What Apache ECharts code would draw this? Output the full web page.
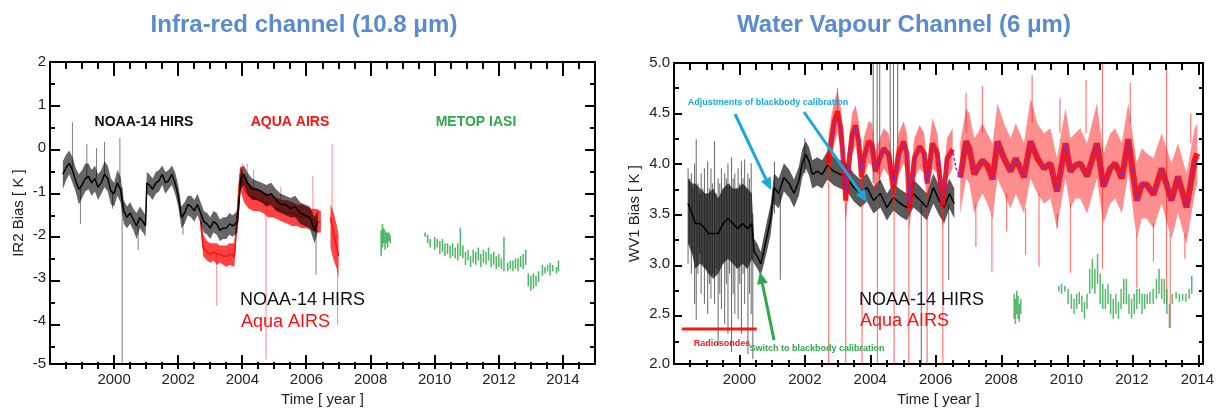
<!DOCTYPE html>
<html>
<head>
<meta charset="utf-8">
<script src="https://cdn.jsdelivr.net/npm/echarts@6/dist/echarts.min.js"></script>
<style>
  html, body { margin: 0; padding: 0; background: #fff; }
  #chart { width: 1217px; height: 412px; }
</style>
</head>
<body>
<div id="chart"></div>
<script>
// Two IR / WV bias time series panels (NOAA-14 HIRS, Aqua AIRS, MetOp IASI)
// Values. Band rows are [year, low, mid, high],
// spike / scatter rows are [year, low, high], mean rows are [year, value].

// ---------- Infra-red channel (10.8 um) ----------
const irHirs = [
  [1998.40, -0.95, -0.6, -0.3], [1998.50, -0.75, -0.45, -0.15], [1998.60, -0.6, -0.35, -0.05],
  [1998.70, -0.8, -0.5, -0.2], [1998.80, -1.0, -0.75, -0.45], [1998.90, -1.3, -0.95, -0.6],
  [1999.00, -1.15, -0.85, -0.5], [1999.10, -1.0, -0.7, -0.35], [1999.20, -0.95, -0.65, -0.35],
  [1999.30, -1.1, -0.8, -0.5], [1999.40, -1.0, -0.7, -0.4], [1999.50, -1.2, -0.9, -0.6],
  [1999.60, -1.05, -0.8, -0.5], [1999.70, -0.9, -0.6, -0.3], [1999.80, -1.0, -0.7, -0.4],
  [1999.90, -1.3, -1.0, -0.7], [2000.00, -1.35, -1.05, -0.8], [2000.10, -1.1, -0.8, -0.5],
  [2000.20, -1.25, -0.95, -0.65], [2000.30, -1.75, -1.45, -1.2], [2000.40, -1.85, -1.6, -1.35],
  [2000.50, -1.75, -1.5, -1.25], [2000.60, -1.9, -1.65, -1.4], [2000.70, -2.1, -1.8, -1.5],
  [2000.80, -1.85, -1.6, -1.35], [2000.90, -1.95, -1.7, -1.45], [2000.98, -2.05, -1.8, -1.55],
  [2001.02, -1.05, -0.8, -0.55], [2001.10, -1.1, -0.85, -0.6], [2001.20, -1.2, -0.95, -0.7],
  [2001.30, -1.05, -0.8, -0.55], [2001.40, -1.0, -0.75, -0.5], [2001.50, -0.85, -0.6, -0.4],
  [2001.60, -1.05, -0.8, -0.55], [2001.70, -0.95, -0.75, -0.5], [2001.80, -0.85, -0.6, -0.4],
  [2001.90, -1.05, -0.8, -0.55], [2002.00, -1.35, -1.1, -0.85], [2002.10, -1.85, -1.6, -1.35],
  [2002.20, -1.75, -1.5, -1.25], [2002.30, -1.55, -1.3, -1.1], [2002.40, -1.6, -1.35, -1.1],
  [2002.50, -1.7, -1.45, -1.2], [2002.60, -1.55, -1.3, -1.05], [2002.70, -1.75, -1.5, -1.25],
  [2002.80, -1.95, -1.7, -1.45], [2002.90, -2.0, -1.75, -1.5], [2003.00, -2.1, -1.85, -1.6],
  [2003.10, -1.95, -1.7, -1.45], [2003.20, -2.0, -1.75, -1.5], [2003.30, -2.15, -1.9, -1.65],
  [2003.40, -2.1, -1.85, -1.6], [2003.50, -2.1, -1.85, -1.6], [2003.60, -2.0, -1.75, -1.5],
  [2003.70, -2.05, -1.8, -1.55], [2003.85, -1.95, -1.7, -1.45], [2003.95, -0.95, -0.7, -0.45],
  [2004.05, -0.85, -0.6, -0.4], [2004.15, -1.05, -0.8, -0.55], [2004.30, -1.2, -0.95, -0.7],
  [2004.45, -1.2, -0.95, -0.75], [2004.60, -1.25, -1.0, -0.8], [2004.75, -1.35, -1.1, -0.85],
  [2004.90, -1.3, -1.05, -0.8], [2005.05, -1.45, -1.2, -0.95], [2005.20, -1.5, -1.3, -1.05],
  [2005.35, -1.55, -1.3, -1.1], [2005.50, -1.6, -1.4, -1.15], [2005.65, -1.6, -1.35, -1.1],
  [2005.80, -1.75, -1.5, -1.25], [2005.95, -1.8, -1.55, -1.3], [2006.10, -1.85, -1.6, -1.35],
  [2006.25, -2.2, -1.9, -1.6], [2006.35, -1.95, -1.7, -1.45]
];
const irHirsSpikes = [
  [1998.70, -0.5, 0.6], [1998.95, -1.75, -0.9], [1999.15, -0.7, 0.1], [1999.45, -0.7, 0.0],
  [1999.70, -0.6, 0.15], [1999.95, -1.4, -1.0], [2000.18, -0.8, 0.24], [2000.25, -5.0, -0.9],
  [2000.75, -2.36, -1.8], [2002.15, -2.0, -1.5], [2006.30, -2.93, -1.9]
];
const irAirsA = [
  [2002.70, -1.9, -1.7, -1.45], [2002.78, -2.5, -2.3, -2.0], [2002.90, -2.6, -2.4, -2.15],
  [2003.00, -2.65, -2.45, -2.2], [2003.10, -2.6, -2.4, -2.2], [2003.20, -2.7, -2.45, -2.2],
  [2003.30, -2.65, -2.45, -2.25], [2003.40, -2.7, -2.5, -2.25], [2003.50, -2.75, -2.5, -2.25],
  [2003.60, -2.7, -2.45, -2.2], [2003.75, -2.75, -2.5, -2.2], [2003.93, -0.95, -0.6, -0.4],
  [2004.05, -1.25, -0.95, -0.65], [2004.20, -1.4, -1.1, -0.8], [2004.35, -1.45, -1.15, -0.9],
  [2004.50, -1.45, -1.2, -0.95], [2004.65, -1.5, -1.25, -1.0], [2004.80, -1.6, -1.3, -1.05],
  [2004.95, -1.6, -1.35, -1.1], [2005.10, -1.65, -1.4, -1.15], [2005.25, -1.7, -1.45, -1.2],
  [2005.40, -1.75, -1.5, -1.2], [2005.55, -1.8, -1.5, -1.25], [2005.70, -1.8, -1.55, -1.3],
  [2005.85, -1.85, -1.6, -1.3], [2006.00, -1.85, -1.6, -1.35], [2006.15, -1.9, -1.65, -1.4],
  [2006.30, -1.95, -1.7, -1.4], [2006.45, -1.95, -1.7, -1.45]
];
const irAirsB = [
  [2006.75, -2.3, -1.6, -1.3], [2006.85, -2.6, -2.0, -1.5], [2006.95, -2.8, -2.3, -1.8],
  [2007.00, -3.0, -2.5, -2.0]
];
const irAirsSpikes = [
  [2003.20, -3.65, -2.4], [2004.00, -0.8, -0.35], [2004.15, -1.0, -0.35], [2004.35, -1.1, -0.5],
  [2004.74, -4.9, -1.3], [2005.20, -1.4, -0.9], [2006.20, -1.5, -0.65], [2006.80, -1.6, 0.1],
  [2006.97, -4.1, -2.5]
];
const irIasi = [
  [2008.33, -2.5, -1.9], [2008.37, -2.3, -1.75], [2008.41, -2.2, -1.85], [2008.45, -2.35, -1.9],
  [2008.49, -2.2, -1.95], [2008.53, -2.3, -1.95], [2008.57, -2.15, -1.95], [2008.61, -2.2, -2.0],
  [2009.70, -2.05, -1.95], [2009.78, -2.2, -2.0], [2009.86, -2.3, -2.1], [2010.00, -2.35, -2.05],
  [2010.08, -2.3, -2.1], [2010.16, -2.45, -2.15], [2010.24, -2.4, -2.1], [2010.32, -2.5, -2.2],
  [2010.40, -2.45, -2.2], [2010.48, -2.55, -2.25], [2010.56, -2.5, -2.2], [2010.64, -2.55, -2.3],
  [2010.72, -2.6, -2.2], [2010.80, -2.5, -1.85], [2010.88, -2.55, -2.25], [2010.96, -2.7, -2.4],
  [2011.04, -2.6, -2.35], [2011.12, -2.75, -2.5], [2011.20, -2.65, -2.35], [2011.28, -2.7, -2.4],
  [2011.36, -2.6, -2.3], [2011.44, -2.75, -2.45], [2011.52, -2.65, -2.35], [2011.60, -2.7, -2.4],
  [2011.68, -2.6, -2.3], [2011.76, -2.75, -2.45], [2011.84, -2.7, -2.4], [2011.92, -2.8, -2.5],
  [2012.00, -2.75, -2.45], [2012.08, -2.8, -2.55], [2012.16, -2.85, -2.05], [2012.28, -2.85, -2.65],
  [2012.36, -2.8, -2.6], [2012.44, -2.85, -2.6], [2012.52, -2.8, -2.55], [2012.60, -2.85, -2.55],
  [2012.68, -2.75, -2.5], [2012.76, -2.8, -2.45], [2012.84, -2.7, -2.35], [2012.92, -3.2, -2.9],
  [2013.00, -3.3, -2.95], [2013.08, -3.25, -2.9], [2013.16, -3.2, -2.95], [2013.24, -3.1, -2.85],
  [2013.36, -2.95, -2.7], [2013.44, -2.9, -2.75], [2013.52, -2.85, -2.7], [2013.60, -2.95, -2.65],
  [2013.68, -2.85, -2.7], [2013.80, -2.9, -2.75], [2013.86, -2.85, -2.6]
];

// ---------- Water vapour channel (6 um) ----------
const wvHirs = [
  [1998.43, 3.2, 3.6, 3.85], [1998.55, 3.1, 3.5, 3.8], [1998.65, 2.95, 3.4, 3.8],
  [1998.80, 3.0, 3.4, 3.75], [1998.95, 2.95, 3.35, 3.7], [1999.05, 2.9, 3.3, 3.7],
  [1999.20, 2.85, 3.3, 3.75], [1999.35, 2.9, 3.3, 3.65], [1999.50, 3.0, 3.4, 3.75],
  [1999.65, 3.05, 3.45, 3.8], [1999.80, 3.0, 3.4, 3.75], [1999.95, 2.95, 3.35, 3.75],
  [2000.10, 3.0, 3.4, 3.8], [2000.25, 2.95, 3.35, 3.75], [2000.38, 3.05, 3.4, 3.7],
  [2000.45, 3.0, 3.12, 3.25], [2000.55, 2.95, 3.07, 3.2], [2000.65, 2.88, 3.0, 3.12],
  [2000.75, 3.0, 3.13, 3.28], [2000.86, 3.15, 3.3, 3.45], [2000.96, 3.3, 3.46, 3.6],
  [2001.06, 3.6, 3.76, 3.9], [2001.20, 3.55, 3.7, 3.85], [2001.36, 3.72, 3.86, 4.0],
  [2001.52, 3.66, 3.8, 3.94], [2001.67, 3.56, 3.7, 3.84], [2001.82, 3.68, 3.83, 3.97],
  [2001.92, 3.86, 4.0, 4.14], [2002.03, 3.95, 4.09, 4.22], [2002.13, 3.88, 4.02, 4.16],
  [2002.23, 3.75, 3.89, 4.03], [2002.38, 3.78, 3.92, 4.06], [2002.53, 3.75, 3.89, 4.03],
  [2002.69, 3.84, 3.98, 4.12], [2002.89, 3.78, 3.92, 4.06], [2003.09, 3.75, 3.89, 4.03],
  [2003.29, 3.72, 3.86, 4.0], [2003.50, 3.62, 3.76, 3.9], [2003.70, 3.56, 3.7, 3.84],
  [2003.90, 3.62, 3.76, 3.9], [2004.10, 3.5, 3.63, 3.77], [2004.31, 3.56, 3.7, 3.84],
  [2004.51, 3.43, 3.56, 3.7], [2004.71, 3.53, 3.66, 3.8], [2004.92, 3.47, 3.6, 3.74],
  [2005.12, 3.43, 3.56, 3.7], [2005.32, 3.56, 3.7, 3.84], [2005.53, 3.5, 3.63, 3.77],
  [2005.73, 3.43, 3.56, 3.7], [2005.93, 3.6, 3.76, 3.9], [2006.11, 3.48, 3.63, 3.78],
  [2006.26, 3.4, 3.56, 3.72], [2006.42, 3.55, 3.7, 3.85], [2006.57, 3.45, 3.6, 3.75]
];
const wvHirsSpikes = [
  [1998.43, 3.0, 3.95], [1998.48, 3.2, 3.85], [1998.53, 2.9, 3.9], [1998.58, 3.1, 3.75],
  [1998.63, 2.6, 4.0], [1998.68, 2.44, 4.24], [1998.73, 2.9, 3.8], [1998.78, 3.1, 3.7],
  [1998.83, 2.7, 3.9], [1998.88, 3.0, 3.75], [1998.93, 2.6, 3.95], [1998.98, 2.95, 3.7],
  [1999.03, 2.5, 4.02], [1999.08, 2.8, 3.75], [1999.13, 2.65, 3.95], [1999.18, 2.9, 3.8],
  [1999.24, 2.6, 4.22], [1999.29, 2.95, 3.7], [1999.35, 2.18, 3.85], [1999.40, 2.7, 3.8],
  [1999.45, 2.55, 3.95], [1999.50, 3.0, 3.75], [1999.55, 2.4, 3.9], [1999.60, 2.8, 3.85],
  [1999.65, 2.3, 4.0], [1999.70, 2.9, 3.8], [1999.76, 2.12, 4.06], [1999.81, 2.7, 3.85],
  [1999.86, 2.5, 3.9], [1999.91, 2.95, 3.75], [1999.96, 2.45, 3.95], [2000.01, 2.8, 3.8],
  [2000.06, 2.3, 4.02], [2000.11, 2.9, 3.85], [2000.16, 2.6, 4.04], [2000.21, 2.95, 3.75],
  [2000.26, 2.1, 3.9], [2000.31, 2.7, 3.85], [2000.36, 2.5, 4.0], [2000.41, 2.05, 3.5],
  [2001.07, 3.5, 4.02], [2001.25, 2.84, 3.7], [2002.00, 3.9, 4.25], [2004.09, 3.8, 5.0],
  [2004.21, 3.9, 5.0], [2004.29, 3.8, 5.0], [2004.61, 3.9, 5.0], [2004.71, 3.7, 5.0],
  [2004.84, 3.9, 5.0], [2005.56, 2.0, 3.6], [2006.40, 2.84, 3.6]
];
const wvAirsA = [
  [2002.70, 3.75, 4.0, 4.2], [2002.80, 3.95, 4.2, 4.45], [2002.90, 4.2, 4.42, 4.62],
  [2003.00, 4.3, 4.52, 4.72], [2003.10, 4.15, 4.35, 4.55], [2003.20, 3.7, 3.92, 4.15],
  [2003.25, 3.4, 3.63, 3.85], [2003.35, 3.8, 4.02, 4.25], [2003.45, 4.08, 4.29, 4.5],
  [2003.55, 4.18, 4.38, 4.58], [2003.65, 4.0, 4.22, 4.42], [2003.73, 3.65, 3.86, 4.05],
  [2003.80, 3.85, 4.05, 4.25], [2003.95, 4.0, 4.22, 4.42], [2004.05, 3.98, 4.19, 4.4],
  [2004.16, 3.7, 3.92, 4.12], [2004.26, 3.82, 4.02, 4.22], [2004.41, 3.95, 4.15, 4.35],
  [2004.56, 3.88, 4.09, 4.3], [2004.71, 3.55, 3.76, 3.95], [2004.87, 3.88, 4.09, 4.3],
  [2005.02, 4.0, 4.22, 4.42], [2005.12, 3.9, 4.1, 4.3], [2005.20, 3.35, 3.55, 3.8],
  [2005.35, 3.85, 4.05, 4.25], [2005.51, 3.95, 4.17, 4.38], [2005.65, 3.9, 4.1, 4.3],
  [2005.74, 3.6, 3.8, 4.0], [2005.90, 3.95, 4.2, 4.45], [2006.05, 3.9, 4.1, 4.3],
  [2006.22, 3.35, 3.58, 3.8], [2006.35, 3.85, 4.05, 4.25], [2006.52, 3.95, 4.14, 4.35]
];
const wvAirsB = [
  [2006.75, 3.5, 3.86, 4.2], [2006.93, 3.85, 4.22, 4.55], [2007.03, 3.8, 4.15, 4.5],
  [2007.18, 3.5, 3.89, 4.25], [2007.28, 3.6, 3.95, 4.3], [2007.43, 3.7, 4.03, 4.4],
  [2007.58, 3.6, 3.98, 4.3], [2007.74, 3.45, 3.84, 4.2], [2007.89, 3.85, 4.22, 4.6],
  [2008.09, 3.7, 4.05, 4.4], [2008.29, 3.55, 3.92, 4.25], [2008.45, 3.7, 4.05, 4.4],
  [2008.70, 3.5, 3.86, 4.2], [2008.90, 3.85, 4.22, 4.65], [2009.11, 3.7, 4.05, 4.4],
  [2009.31, 3.6, 3.95, 4.3], [2009.51, 3.65, 4.0, 4.35], [2009.71, 3.35, 3.72, 4.05],
  [2009.97, 3.85, 4.2, 4.55], [2010.12, 3.55, 3.92, 4.25], [2010.27, 3.65, 3.98, 4.3],
  [2010.42, 3.65, 4.0, 4.35], [2010.63, 3.5, 3.87, 4.2], [2010.93, 3.85, 4.2, 4.6],
  [2011.13, 3.4, 3.77, 4.1], [2011.34, 3.6, 3.95, 4.3], [2011.49, 3.65, 4.0, 4.35],
  [2011.69, 3.5, 3.85, 4.2], [2011.89, 3.9, 4.24, 4.6], [2012.15, 3.25, 3.63, 4.0],
  [2012.30, 3.45, 3.79, 4.15], [2012.45, 3.45, 3.79, 4.1], [2012.66, 3.35, 3.69, 4.05],
  [2012.91, 3.6, 3.95, 4.3], [2013.21, 3.25, 3.63, 4.0], [2013.41, 3.5, 3.87, 4.2],
  [2013.67, 3.2, 3.56, 3.9], [2013.92, 3.7, 4.03, 4.35], [2014.00, 3.8, 4.1, 4.4]
];
const wvAirsSpikes = [
  [2002.73, 2.0, 3.8], [2003.25, 2.0, 3.6], [2003.75, 2.0, 3.7], [2004.22, 2.0, 3.7],
  [2004.73, 2.0, 3.6], [2005.18, 2.0, 3.5], [2005.74, 2.0, 3.6], [2006.22, 2.0, 3.5],
  [2003.00, 4.5, 4.75], [2006.93, 4.3, 4.7], [2007.43, 4.3, 4.77], [2008.95, 4.4, 4.88],
  [2009.80, 4.3, 4.65], [2010.60, 4.3, 4.83], [2011.10, 2.95, 5.0], [2011.95, 4.4, 4.8],
  [2013.06, 2.6, 5.0], [2013.80, 4.2, 4.5], [2007.23, 3.17, 3.6], [2007.72, 2.92, 3.5],
  [2008.17, 3.32, 3.7], [2008.75, 3.09, 3.55], [2009.16, 2.97, 3.7], [2009.72, 3.35, 3.5],
  [2010.12, 2.91, 3.6], [2012.15, 2.76, 3.3], [2012.66, 3.02, 3.4], [2013.17, 2.36, 3.3],
  [2013.62, 3.05, 3.3]
];
const wvAirsMean = [
  [2002.80, 4.2], [2002.90, 4.4], [2003.00, 4.45], [2003.10, 4.32], [2003.20, 3.95], [2003.25, 3.7],
  [2003.35, 4.0], [2003.45, 4.27], [2003.55, 4.36], [2003.65, 4.22], [2003.73, 3.9], [2003.80, 4.05],
  [2003.95, 4.2], [2004.05, 4.18], [2004.16, 3.93], [2004.26, 4.02], [2004.41, 4.14], [2004.56, 4.08],
  [2004.71, 3.8], [2004.87, 4.08], [2005.02, 4.2], [2005.12, 4.1], [2005.20, 3.6], [2005.35, 4.04],
  [2005.51, 4.16], [2005.65, 4.1], [2005.74, 3.8], [2005.90, 4.18], [2006.05, 4.1], [2006.22, 3.62],
  [2006.35, 4.04], [2006.52, 4.13], [2006.62, 3.95], [2006.75, 3.86], [2006.93, 4.22], [2007.03, 4.15],
  [2007.18, 3.89], [2007.28, 3.95], [2007.43, 4.03], [2007.58, 3.98], [2007.74, 3.84], [2007.89, 4.22],
  [2008.09, 4.05], [2008.29, 3.92], [2008.45, 4.05], [2008.70, 3.86], [2008.90, 4.22], [2009.11, 4.05],
  [2009.31, 3.95], [2009.51, 4.0], [2009.71, 3.72], [2009.97, 4.2], [2010.12, 3.92], [2010.27, 3.98],
  [2010.42, 4.0], [2010.63, 3.87], [2010.93, 4.2], [2011.13, 3.77], [2011.34, 3.95], [2011.49, 4.0],
  [2011.69, 3.85], [2011.89, 4.24], [2012.15, 3.63], [2012.30, 3.79], [2012.45, 3.79], [2012.66, 3.69],
  [2012.91, 3.95], [2013.21, 3.63], [2013.41, 3.87], [2013.67, 3.56], [2013.92, 4.03]
];
const wvIasi = [
  [2008.40, 2.45, 2.7], [2008.44, 2.4, 2.65], [2008.48, 2.5, 2.73], [2008.52, 2.45, 2.68],
  [2008.56, 2.42, 2.6], [2008.60, 2.5, 2.65], [2009.77, 2.72, 2.78], [2009.85, 2.7, 2.8],
  [2009.95, 2.72, 2.78], [2010.05, 2.6, 2.75], [2010.15, 2.55, 2.7], [2010.23, 2.5, 2.65],
  [2010.31, 2.55, 2.7], [2010.39, 2.6, 2.72], [2010.47, 2.52, 2.68], [2010.55, 2.45, 2.62],
  [2010.63, 2.55, 2.7], [2010.71, 2.7, 2.95], [2010.79, 2.75, 3.05], [2010.87, 2.7, 2.95],
  [2010.95, 2.8, 3.1], [2011.03, 2.6, 2.9], [2011.11, 2.55, 2.8], [2011.19, 2.55, 2.75],
  [2011.27, 2.6, 2.8], [2011.35, 2.5, 2.7], [2011.43, 2.45, 2.65], [2011.51, 2.5, 2.7],
  [2011.59, 2.45, 2.62], [2011.67, 2.55, 2.75], [2011.75, 2.6, 2.85], [2011.83, 2.6, 2.85],
  [2011.91, 2.5, 2.7], [2011.99, 2.45, 2.65], [2012.07, 2.5, 2.7], [2012.15, 2.55, 2.75],
  [2012.23, 2.6, 2.75], [2012.31, 2.5, 2.7], [2012.39, 2.55, 2.7], [2012.47, 2.6, 2.7],
  [2012.55, 2.6, 2.72], [2012.65, 2.6, 2.75], [2012.75, 2.65, 2.85], [2012.83, 2.7, 2.95],
  [2012.91, 2.65, 2.85], [2012.99, 2.6, 2.85], [2013.07, 2.5, 2.75], [2013.15, 2.36, 2.6],
  [2013.23, 2.6, 2.7], [2013.35, 2.65, 2.72], [2013.45, 2.62, 2.7], [2013.55, 2.63, 2.7],
  [2013.65, 2.62, 2.7], [2013.75, 2.65, 2.75], [2013.83, 2.7, 2.88]
];
const radiosondeSpan = [[1998.24, 2.35], [2000.53, 2.35]];

// ---------- panel geometry ----------
const PANELS = [
  { left: 50, top: 62, width: 545, height: 307, xMin: 1998, xMax: 2015, yMin: -5, yMax: 2,
    xStep: 0.5, xMajor: 2, xMajorLen: 14, yStep: 0.5, yMajor: 1, yMajorLen: 10 },
  { left: 674, top: 63, width: 530, height: 304, xMin: 1998, xMax: 2014.16, yMin: 2, yMax: 5,
    xStep: 0.5, xMajor: 2, xMajorLen: 12, yStep: 0.25, yMajor: 0.5, yMajorLen: 8 }
];

// ---------- helpers ----------
const BLACK = '#000', RED = '#ff1010', GREEN = '#2ea84a', CYAN = '#1ba7dc';
const NARROW = '"Liberation Sans Narrow", "Liberation Sans", Arial, sans-serif';
const SANS = '"Liberation Sans", Arial, sans-serif';

// filled low/high envelope, one polygon per segment
function band(seg, axis, color, z) {
  return {
    type: 'custom', xAxisIndex: axis, yAxisIndex: axis, z, silent: true, clip: true,
    data: [[seg[0][0], seg[0][2]]],
    encode: { x: 0, y: 1 },
    renderItem(params, api) {
      const lo = seg.map(p => api.coord([p[0], p[1]]));
      const hi = seg.slice().reverse().map(p => api.coord([p[0], p[3]]));
      return { type: 'polygon', shape: { points: lo.concat(hi) }, style: { fill: color } };
    }
  };
}

function midLine(seg, axis, color, width, z, dash) {
  return {
    type: 'line', xAxisIndex: axis, yAxisIndex: axis, z, silent: true, clip: true,
    data: seg.map(p => [p[0], p.length > 2 ? p[2] : p[1]]),
    showSymbol: false, symbol: 'none',
    lineStyle: { color, width, type: dash || 'solid' }
  };
}

// vertical strokes from low to high
function spikes(rows, axis, color, width, z) {
  return {
    type: 'custom', xAxisIndex: axis, yAxisIndex: axis, z, silent: true, clip: true,
    data: rows, encode: { x: 0, y: [1, 2] },
    renderItem(params, api) {
      const a = api.coord([api.value(0), api.value(1)]);
      const b = api.coord([api.value(0), api.value(2)]);
      return { type: 'line', shape: { x1: a[0], y1: a[1], x2: b[0], y2: b[1] },
               style: { stroke: color, lineWidth: width } };
    }
  };
}

// tick values [value, length] strictly between the axis ends
function tickRange(from, to, step, majorEvery, majorLen, minorLen) {
  const out = [];
  for (let v = from + step; v < to - 1e-6; v += step) {
    const r = Math.round(v * 100) / 100;
    out.push([r, Math.abs(r / majorEvery - Math.round(r / majorEvery)) < 1e-6 ? majorLen : minorLen]);
  }
  return out;
}

// inward ticks on all four sides of a panel (plain graphic lines)
function frameTicks(p) {
  const out = [];
  const bot = p.top + p.height, rgt = p.left + p.width;
  const seg = (x1, y1, x2, y2) => out.push({ type: 'line', z: 120, silent: true,
    shape: { x1, y1, x2, y2 }, style: { stroke: '#000', lineWidth: 2 } });
  tickRange(p.xMin, p.xMax, p.xStep, p.xMajor, p.xMajorLen, 7).forEach(([v, len]) => {
    const x = Math.round(p.left + (v - p.xMin) / (p.xMax - p.xMin) * p.width);
    seg(x, bot, x, bot - len);
    seg(x, p.top, x, p.top + len);
  });
  tickRange(p.yMin, p.yMax, p.yStep, p.yMajor, p.yMajorLen, 5).forEach(([v, len]) => {
    const y = Math.round(bot - (v - p.yMin) / (p.yMax - p.yMin) * p.height);
    seg(p.left, y, p.left + len, y);
    seg(rgt, y, rgt - len, y);
  });
  return out;
}

function xAxis(i, pos, labels) {
  const p = PANELS[i];
  const ax = {
    gridIndex: i, type: 'value', min: p.xMin, max: p.xMax, interval: p.xMajor, position: pos,
    axisLine: { show: true, onZero: false, lineStyle: { color: '#000', width: 2 } },
    axisTick: { show: false }, minorTick: { show: false }, splitLine: { show: false },
    axisLabel: { show: labels, fontSize: 15, fontFamily: SANS, color: '#222', margin: 8,
      formatter: v => (v > 1998 && v % 2 === 0) ? String(v) : '' }
  };
  if (labels) {
    ax.name = 'Time [ year ]';
    ax.nameLocation = 'middle';
    ax.nameGap = 26;
    ax.nameTextStyle = { fontSize: 15, fontFamily: SANS, color: '#222' };
  }
  return ax;
}
function yAxis(i, name, pos, fmt, gap) {
  const p = PANELS[i];
  const ax = {
    gridIndex: i, type: 'value', min: p.yMin, max: p.yMax, interval: p.yMajor, position: pos,
    axisLine: { show: true, onZero: false, lineStyle: { color: '#000', width: 2 } },
    axisTick: { show: false }, minorTick: { show: false }, splitLine: { show: false },
    axisLabel: { show: !!name, fontSize: 15, fontFamily: SANS, color: '#222', margin: 4 }
  };
  if (fmt) ax.axisLabel.formatter = fmt;
  if (name) {
    ax.name = name;
    ax.nameLocation = 'middle';
    ax.nameGap = gap;
    ax.nameRotate = 90;
    ax.nameTextStyle = { fontSize: 15, fontFamily: SANS, color: '#222' };
  }
  return ax;
}

function arrow(x1, y1, x2, y2, color) {
  const ang = Math.atan2(y2 - y1, x2 - x1), L = 12, W = 5.5;
  const bx = x2 - L * Math.cos(ang), by = y2 - L * Math.sin(ang);
  const nx = -Math.sin(ang) * W, ny = Math.cos(ang) * W;
  return [
    { type: 'line', z: 100, shape: { x1, y1, x2: bx, y2: by }, style: { stroke: color, lineWidth: 3 } },
    { type: 'polygon', z: 100, shape: { points: [[x2, y2], [bx + nx, by + ny], [bx - nx, by - ny]] }, style: { fill: color } }
  ];
}
function label(text, x, y, color, size, weight, family, align) {
  return { type: 'text', z: 100, x, y,
    style: { text, fill: color, fontSize: size, fontWeight: weight, fontFamily: family,
             align: align || 'center', verticalAlign: 'middle' } };
}

const chart = echarts.init(document.getElementById('chart'));

chart.setOption({
  animation: false,
  backgroundColor: '#fff',
  grid: PANELS.map(p => ({ left: p.left, top: p.top, width: p.width, height: p.height })),
  xAxis: [xAxis(0, 'bottom', true), xAxis(1, 'bottom', true), xAxis(0, 'top', false), xAxis(1, 'top', false)],
  yAxis: [
    yAxis(0, 'IR2 Bias [ K ]', 'left', v => String(v), 24),
    yAxis(1, 'WV1 Bias [ K ]', 'left', v => v.toFixed(1), 32),
    yAxis(0, '', 'right', null, 0),
    yAxis(1, '', 'right', null, 0)
  ],
  series: [
    // IR panel
    spikes(irAirsSpikes, 0, 'rgba(255,40,40,0.55)', 1, 2),
    band(irAirsA, 0, 'rgba(255,20,20,0.8)', 3),
    band(irAirsB, 0, 'rgba(255,20,20,0.8)', 3),
    midLine(irAirsA, 0, RED, 1.5, 4),
    midLine(irAirsB, 0, RED, 1.5, 4),
    spikes(irHirsSpikes, 0, 'rgba(0,0,0,0.5)', 1, 5),
    band(irHirs, 0, 'rgba(0,0,0,0.6)', 6),
    midLine(irHirs, 0, BLACK, 1.5, 7),
    spikes(irIasi, 0, 'rgba(46,168,74,0.85)', 1.5, 8),
    // WV panel
    spikes(wvHirsSpikes, 1, 'rgba(0,0,0,0.6)', 1, 2),
    band(wvHirs, 1, 'rgba(0,0,0,0.65)', 3),
    midLine(wvHirs, 1, BLACK, 1.5, 4),
    spikes(wvAirsSpikes, 1, 'rgba(255,30,30,0.6)', 1.2, 5),
    band(wvAirsA, 1, 'rgba(255,30,30,0.55)', 6),
    band(wvAirsB, 1, 'rgba(255,30,30,0.5)', 6),
    midLine(wvAirsA, 1, 'rgba(255,0,0,0.85)', 5, 7),
    midLine(wvAirsB, 1, 'rgba(255,0,0,0.85)', 6, 7),
    midLine(wvAirsMean, 1, '#5a3cf0', 1.5, 8, [3, 2]),
    spikes(wvIasi, 1, 'rgba(46,168,74,0.8)', 1.5, 9),
    {
      type: 'line', xAxisIndex: 1, yAxisIndex: 1, z: 10, silent: true,
      data: radiosondeSpan, showSymbol: false, symbol: 'none',
      lineStyle: { color: '#ee1c1c', width: 3 }
    }
  ],
  graphic: [
    ...frameTicks(PANELS[0]),
    ...frameTicks(PANELS[1]),
    label('Infra-red channel (10.8 \u03bcm)', 304, 25, '#5a8ad0', 24, 'bold', NARROW),
    label('Water Vapour Channel (6 \u03bcm)', 904, 25, '#5a8ad0', 24, 'bold', NARROW),
    label('NOAA-14 HIRS', 144, 122, '#111', 14, 'bold', NARROW),
    label('AQUA AIRS', 290, 122, RED, 14, 'bold', NARROW),
    label('METOP IASI', 476, 122, GREEN, 14, 'bold', NARROW),
    label('NOAA-14 HIRS', 240, 300, '#111', 18, 'normal', NARROW, 'left'),
    label('Aqua AIRS', 241, 322, RED, 18, 'normal', NARROW, 'left'),
    label('NOAA-14 HIRS', 859, 300, '#111', 18, 'normal', NARROW, 'left'),
    label('Aqua AIRS', 860, 321, RED, 18, 'normal', NARROW, 'left'),
    label('Adjustments of blackbody calibration', 768, 103, CYAN, 9, 'bold', NARROW),
    label('Switch to blackbody calibration', 817, 349, GREEN, 9, 'bold', NARROW),
    label('Radiosondes', 722, 344, '#ee1c1c', 9, 'bold', NARROW),
    ...arrow(735, 114, 771, 190, CYAN),
    ...arrow(804, 112, 867, 202, CYAN),
    ...arrow(774, 340, 760, 272, GREEN)
  ]
});
</script>
</body>
</html>
